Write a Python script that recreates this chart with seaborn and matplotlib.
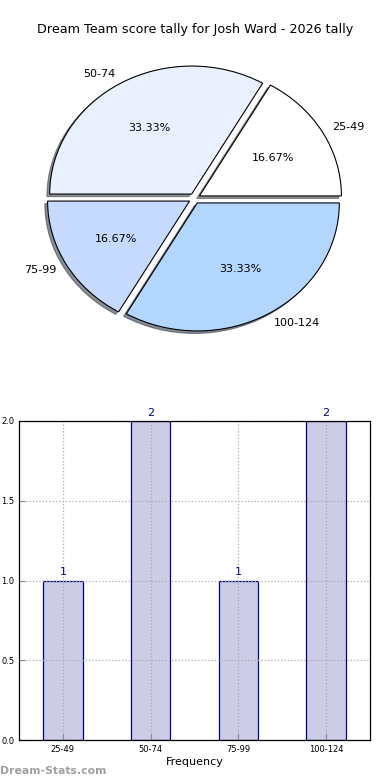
import matplotlib
matplotlib.use("Agg")
import matplotlib.pyplot as plt
import seaborn as sns
import pandas as pd

# Data
categories = ["25-49", "50-74", "75-99", "100-124"]
counts = [1, 2, 1, 2]
pie_colors = ["#FFFFFF", "#EAF0FF", "#C6D9FF", "#B3D6FF"]
title = "Dream Team score tally for Josh Ward - 2026 tally"
yticks = [0.0, 0.5, 1.0, 1.5, 2.0]

W, H = 390, 780
fig = plt.figure(figsize=(W / 100, H / 100), dpi=100)

# Pie chart
axp = fig.add_axes([17 / W, 1 - 358.5 / H, 355 / W, 320 / H])
wedges, texts, autotexts = axp.pie(
    counts, labels=categories, colors=pie_colors, explode=[0.04] * 4,
    autopct="%1.2f%%", startangle=0, counterclock=True,
    shadow=dict(ox=-0.014, oy=-0.014, shade=0.7, alpha=0.6),
    labeldistance=1.08,
    wedgeprops=dict(edgecolor="black", linewidth=0.8),
    textprops=dict(fontsize=8),
)
axp.set_aspect("auto")
axp.set_xlim(-1.25, 1.25)
axp.set_ylim(-1.25, 1.25)
fig.text(0.5, 1 - 30 / H, title, ha="center", va="center", fontsize=9.2)

# Bar chart
axb = fig.add_axes([19 / W, 1 - 740 / H, 351 / W, 319 / H])
df = pd.DataFrame({"range": categories, "count": counts})
sns.barplot(data=df, x="range", y="count", color="#CCCCE6", saturation=1,
            edgecolor="#000080", linewidth=0.9, width=0.45, ax=axb)
axb.set_xlim(-0.5, 3.5)
axb.set_ylim(0, 2)
axb.set_yticks(yticks)
axb.set_yticklabels([f"{v:.1f}" for v in yticks])
axb.set_axisbelow("line")
axb.grid(True, color="#AAAAAA", linestyle=":", linewidth=0.9)
axb.tick_params(direction="in", labelsize=6, length=4, color="#888888")
axb.set_xlabel("Frequency", fontsize=8, labelpad=2)
axb.set_ylabel("")
for sp in axb.spines.values():
    sp.set_color("black")
    sp.set_linewidth(0.9)
    sp.set_zorder(3)
for i, v in enumerate(counts):
    axb.text(i, v + 0.02, str(v), ha="center", va="bottom", fontsize=8,
             color="#000080", clip_on=False)

fig.text(0 / W, 1 - 771 / H, "Dream-Stats.com", ha="left", va="center",
         fontsize=7.8, fontweight="bold", color="#A0A0A0")

fig.savefig("out.png", dpi=100)
